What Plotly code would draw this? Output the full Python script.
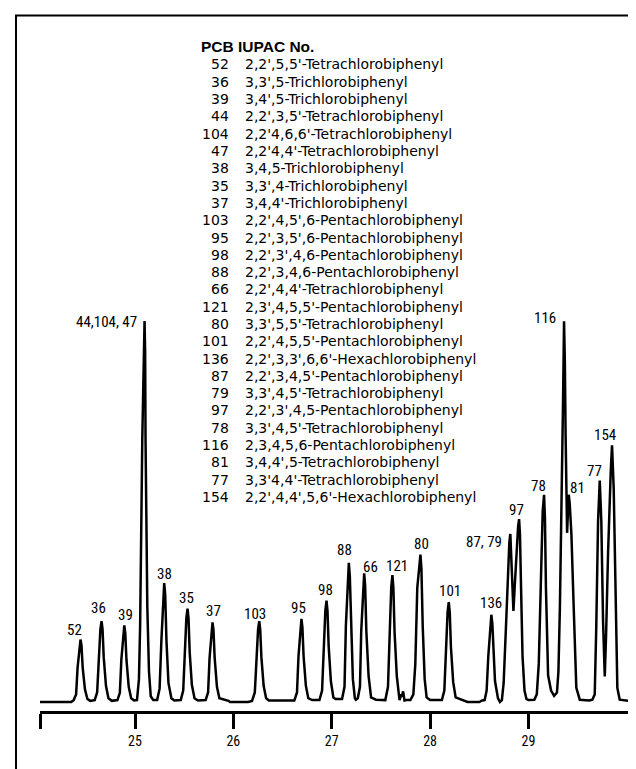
import plotly.graph_objects as go

# ---------------- data ----------------
# chromatogram trace: retention time (min) vs relative response (%)
retention_time = [
    24.034, 24.352, 24.376, 24.401, 24.416, 24.434, 24.446, 24.456, 24.468, 24.491, 24.516, 24.545,
    24.590, 24.615, 24.630, 24.648, 24.660, 24.670, 24.682, 24.705, 24.730, 24.765,
    24.821, 24.846, 24.861, 24.879, 24.891, 24.901, 24.913, 24.936, 24.961, 24.990,
    25.020, 25.040, 25.052, 25.074, 25.090, 25.097, 25.103, 25.107, 25.125, 25.142, 25.160, 25.185,
    25.225, 25.250, 25.268, 25.285, 25.297, 25.307, 25.320, 25.340, 25.370, 25.400,
    25.465, 25.490, 25.505, 25.522, 25.534, 25.544, 25.556, 25.578, 25.605, 25.640,
    25.718, 25.743, 25.758, 25.776, 25.788, 25.798, 25.810, 25.833, 25.858, 25.950, 25.965, 26.150,
    26.190, 26.218, 26.233, 26.251, 26.263, 26.273, 26.285, 26.308, 26.333, 26.360,
    26.620, 26.647, 26.662, 26.680, 26.692, 26.702, 26.714, 26.737, 26.762, 26.800,
    26.875, 26.902, 26.917, 26.935, 26.947, 26.957, 26.969, 26.992, 27.017, 27.040,
    27.105, 27.130, 27.144, 27.162, 27.174, 27.184, 27.196, 27.215, 27.235, 27.245,
    27.265, 27.287, 27.300, 27.318, 27.330, 27.340, 27.352, 27.375, 27.400, 27.450,
    27.545, 27.572, 27.587, 27.605, 27.617, 27.627, 27.639, 27.662, 27.685,
    27.690, 27.705, 27.712, 27.726, 27.740, 27.760,
    27.800, 27.830, 27.850, 27.870, 27.890, 27.902, 27.912, 27.925, 27.945, 27.965, 28.000,
    28.120, 28.145, 28.160, 28.178, 28.190, 28.200, 28.212, 28.235, 28.260, 28.350, 28.380, 28.500, 28.530,
    28.555, 28.575, 28.592, 28.611, 28.623, 28.633, 28.645, 28.660, 28.690, 28.710,
    28.730, 28.748, 28.772, 28.790, 28.806, 28.816, 28.825, 28.838, 28.8475, 28.860, 28.880, 28.895,
    28.905, 28.914, 28.925, 28.940, 28.960, 28.980,
    29.000, 29.060, 29.085, 29.105, 29.125, 29.145, 29.159, 29.168, 29.178, 29.190, 29.200, 29.230, 29.261,
    29.290, 29.305, 29.320, 29.335, 29.352, 29.362, 29.370, 29.378, 29.393, 29.402, 29.410, 29.420, 29.437,
    29.460, 29.487, 29.522, 29.550, 29.620,
    29.650, 29.674, 29.690, 29.708, 29.725, 29.741, 29.759, 29.776, 29.790, 29.809, 29.837, 29.850,
    29.867, 29.888, 29.904, 29.928, 30.013,
]
response = [
    0.0, 0.0, 0.5, 2.0, 9.0, 14.8, 16.4, 14.8, 9.0, 3.3, 0.8, 0.3,
    0.5, 2.5, 11.7, 19.1, 21.2, 19.1, 11.7, 4.2, 1.0, 0.3,
    0.5, 2.4, 11.1, 18.1, 20.1, 18.1, 11.1, 4.0, 1.0, 0.4,
    0.5, 6.0, 20.0, 69.0, 97.0, 100.0, 92.0, 69.0, 25.0, 8.0, 1.5, 0.5,
    0.5, 3.5, 16.0, 28.0, 31.2, 28.0, 16.0, 5.0, 1.0, 0.4,
    0.5, 3.0, 13.0, 22.0, 24.5, 22.0, 13.0, 4.5, 1.0, 0.4,
    0.5, 2.5, 11.5, 18.8, 20.9, 18.8, 11.5, 4.0, 1.0, 0.3, 0.0, 0.0,
    0.3, 2.5, 11.7, 19.0, 21.2, 19.0, 11.7, 4.2, 1.0, 0.4,
    0.4, 2.5, 12.0, 19.6, 21.8, 19.6, 12.0, 4.3, 1.0, 0.5,
    0.5, 3.0, 14.6, 23.9, 26.6, 23.9, 14.6, 5.3, 1.2, 0.8,
    0.8, 4.0, 20.0, 33.0, 36.5, 33.0, 20.0, 6.0, 1.0, 0.6,
    1.0, 4.0, 18.6, 30.4, 33.8, 30.4, 18.6, 6.8, 1.2, 0.6,
    0.5, 4.0, 18.3, 30.0, 33.3, 30.0, 18.3, 6.7, 1.5,
    0.5, 2.0, 1.3, 2.8, 0.4, 0.5,
    0.5, 2.0, 10.0, 30.0, 37.0, 38.7, 35.0, 20.0, 6.0, 1.2, 0.5,
    0.5, 3.0, 14.4, 23.6, 26.2, 23.6, 14.4, 5.2, 1.2, 0.3, 0.0, 0.0, 0.4,
    0.5, 3.0, 12.0, 20.6, 22.9, 20.6, 12.0, 5.5, 1.0, 0.0,
    0.5, 5.0, 20.0, 33.0, 42.0, 44.1, 38.0, 26.0, 23.9, 30.0, 40.0, 46.0,
    48.0, 44.0, 30.0, 12.0, 3.0, 0.8,
    0.5, 0.6, 2.0, 10.0, 30.0, 50.0, 54.4, 48.0, 30.0, 14.0, 7.0, 3.0, 1.6,
    2.5, 8.0, 25.0, 47.5, 79.0, 99.9, 90.0, 70.0, 44.4, 50.0, 54.4, 52.0, 44.0,
    25.0, 3.7, 0.6, 0.5, 0.4,
    0.6, 2.0, 20.0, 47.5, 58.1, 47.5, 21.0, 6.7, 18.0, 38.6, 60.6, 67.4,
    56.0, 21.0, 3.7, 0.6, 0.3,
]

# peak labels (PCB IUPAC numbers) with apex retention time and height
peak_labels = ["52", "36", "39", "44,104, 47", "38", "35", "37", "103", "95", "98", "88", "66",
               "121", "80", "101", "136", "87, 79", "97", "78", "116", "81", "77", "154"]
peak_rt = [24.446, 24.660, 24.891, 25.097, 25.297, 25.534, 25.788, 26.263, 26.692, 26.947, 27.174, 27.330,
           27.617, 27.902, 28.190, 28.623, 28.816, 28.905, 29.159, 29.362, 29.410, 29.725, 29.850]
peak_height = [16.4, 21.2, 20.1, 100.0, 31.2, 24.5, 20.9, 21.2, 21.8, 26.6, 36.5, 33.8,
               33.3, 38.7, 26.2, 22.9, 44.1, 48.0, 54.4, 99.9, 54.4, 58.1, 67.4]

# compound key
legend_title = "PCB IUPAC No."
pcb_numbers = ["52", "36", "39", "44", "104", "47", "38", "35", "37", "103", "95", "98", "88",
               "66", "121", "80", "101", "136", "87", "79", "97", "78", "116", "81", "77", "154"]
pcb_names = [
    "2,2',5,5'-Tetrachlorobiphenyl",
    "3,3',5-Trichlorobiphenyl",
    "3,4',5-Trichlorobiphenyl",
    "2,2',3,5'-Tetrachlorobiphenyl",
    "2,2'4,6,6'-Tetrachlorobiphenyl",
    "2,2'4,4'-Tetrachlorobiphenyl",
    "3,4,5-Trichlorobiphenyl",
    "3,3',4-Trichlorobiphenyl",
    "3,4,4'-Trichlorobiphenyl",
    "2,2',4,5',6-Pentachlorobiphenyl",
    "2,2',3,5',6-Pentachlorobiphenyl",
    "2,2',3',4,6-Pentachlorobiphenyl",
    "2,2',3,4,6-Pentachlorobiphenyl",
    "2,2',4,4'-Tetrachlorobiphenyl",
    "2,3',4,5,5'-Pentachlorobiphenyl",
    "3,3',5,5'-Tetrachlorobiphenyl",
    "2,2',4,5,5'-Pentachlorobiphenyl",
    "2,2',3,3',6,6'-Hexachlorobiphenyl",
    "2,2',3,4,5'-Pentachlorobiphenyl",
    "3,3',4,5'-Tetrachlorobiphenyl",
    "2,2',3',4,5-Pentachlorobiphenyl",
    "3,3',4,5'-Tetrachlorobiphenyl",
    "2,3,4,5,6-Pentachlorobiphenyl",
    "3,4,4',5-Tetrachlorobiphenyl",
    "3,3'4,4'-Tetrachlorobiphenyl",
    "2,2',4,4',5,6'-Hexachlorobiphenyl",
]

tick_values = [25, 26, 27, 28, 29]
x_range = [24.034, 30.053]

# ---------------- layout / style ----------------
W, H = 636, 769
ML, MR, MT, MB = 32, 12, 20, 66
PW, PH = W - ML - MR, H - MT - MB
BASE_PX, PX_PER_UNIT = 694, 3.81
y_range = [-((H - MB) - BASE_PX) / PX_PER_UNIT, (BASE_PX - MT) / PX_PER_UNIT]


def px_x(x):
    return (x - ML) / PW


def px_y(y):
    return (H - MB - y) / PH


NARROW = "Liberation Sans Narrow, Arial Narrow, Roboto Condensed, Liberation Sans, Arial, sans-serif"
SANS = "Liberation Sans, Arial, Helvetica, sans-serif"
WIDE = "DejaVu Sans, Verdana, Liberation Sans, sans-serif"

fig = go.Figure()
fig.add_trace(go.Scatter(x=retention_time, y=response, mode="lines",
                         line=dict(color="black", width=2.5), hoverinfo="skip"))

# label offsets in pixels (dx, dy up, anchor)
label_style = {
    "52": (-5.6, 10, "center"), "36": (-2.6, 13, "center"), "39": (1.3, 10.6, "center"),
    "44,104, 47": (-6, -1, "right"), "38": (0, 9, "center"), "35": (-0.6, 10.7, "center"),
    "37": (0.7, 11.6, "center"), "103": (-4, 7.3, "center"), "95": (-2.6, 11, "center"),
    "98": (-1, 11, "center"), "88": (-4.7, 13.3, "center"), "66": (6.7, 6.3, "center"),
    "121": (5, 9, "center"), "80": (1, 10.7, "center"), "101": (1.6, 11, "center"),
    "136": (-0.6, 11.7, "center"), "87, 79": (-26, -8, "center"), "97": (-2.7, 9.3, "center"),
    "78": (-5.3, 8.4, "center"), "116": (-6, 3.3, "right"), "81": (9, 6.7, "center"),
    "77": (-5, 9.4, "center"), "154": (-6.7, 10, "center"),
}

annotations = []
for lab, t, h in zip(peak_labels, peak_rt, peak_height):
    dx, dy, anc = label_style[lab]
    annotations.append(dict(x=t, y=h, xref="x", yref="y", text=lab, showarrow=False,
                            xanchor=anc, yanchor="middle", xshift=dx, yshift=dy,
                            font=dict(family=NARROW, size=15, color="black")))

annotations.append(dict(x=px_x(191), y=px_y(39), xref="paper", yref="paper",
                        text="<b>" + legend_title + "</b>", showarrow=False,
                        xanchor="left", yanchor="middle",
                        font=dict(family=SANS, size=15.5, color="black")))
for i, (num, name) in enumerate(zip(pcb_numbers, pcb_names)):
    yc = 56.5 + i * 17.3
    annotations.append(dict(x=px_x(223), y=px_y(yc), xref="paper", yref="paper", text=num,
                            showarrow=False, xanchor="right", yanchor="middle",
                            font=dict(family=WIDE, size=14, color="black")))
    annotations.append(dict(x=px_x(235), y=px_y(yc), xref="paper", yref="paper", text=name,
                            showarrow=False, xanchor="left", yanchor="middle",
                            font=dict(family=WIDE, size=14, color="black")))

fig.update_layout(
    width=W, height=H,
    margin=dict(l=ML, r=MR, t=MT, b=MB, pad=0),
    paper_bgcolor="white", plot_bgcolor="white",
    showlegend=False,
    annotations=annotations,
    shapes=[dict(type="rect", xref="paper", yref="paper",
                 x0=px_x(8), x1=px_x(660), y0=px_y(800), y1=px_y(7.5),
                 line=dict(color="black", width=2), fillcolor="rgba(0,0,0,0)", layer="above")],
    xaxis=dict(range=x_range, tickvals=[x_range[0] + 0.002] + tick_values,
               ticktext=[""] + [str(v) for v in tick_values],
               ticks="outside", ticklen=15, tickwidth=2.5, tickcolor="black",
               showline=True, linewidth=2.5, linecolor="black",
               showgrid=False, zeroline=False, fixedrange=True,
               tickfont=dict(family=NARROW, size=14, color="black")),
    yaxis=dict(range=y_range, visible=False, showgrid=False, zeroline=False, fixedrange=True),
)

fig.write_html("out.html")
